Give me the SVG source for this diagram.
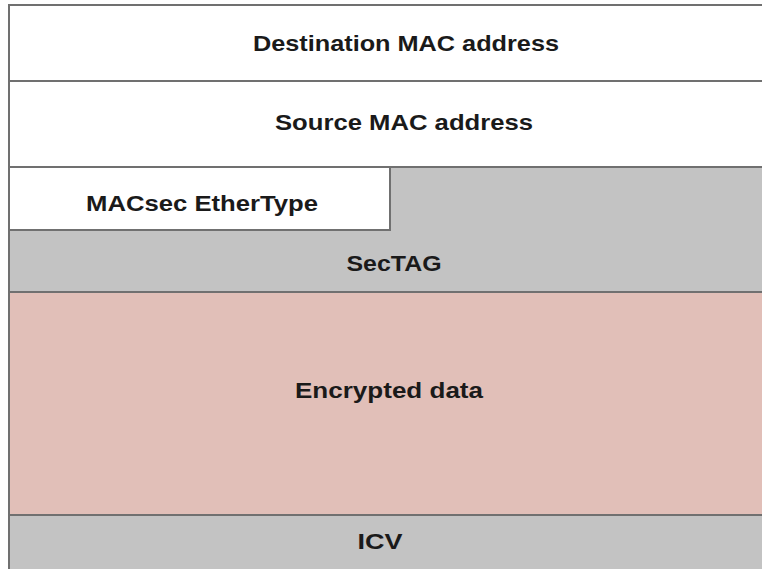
<svg xmlns="http://www.w3.org/2000/svg" width="762" height="569" viewBox="0 0 762 569">
<style>
.t{font-family:"Liberation Sans",Arial,sans-serif;font-weight:bold;font-size:22px;fill:#1a1a1a;text-anchor:middle}
.b{stroke:#707070;stroke-width:2}
</style>
<rect width="762" height="569" fill="#ffffff"/>
<g id="dest"><rect class="b" x="9" y="5" width="760" height="76" fill="#ffffff"/><text class="t" x="406" y="51" textLength="306" lengthAdjust="spacingAndGlyphs">Destination MAC address</text></g>
<g id="src"><rect class="b" x="9" y="81" width="760" height="86" fill="#ffffff"/><text class="t" x="404" y="130" textLength="258" lengthAdjust="spacingAndGlyphs">Source MAC address</text></g>
<g id="sectag"><path class="b" d="M9 167 H769 V292 H9 Z" fill="#c3c3c3"/><text class="t" x="394" y="271" textLength="95" lengthAdjust="spacingAndGlyphs">SecTAG</text></g>
<g id="ethertype"><path class="b" d="M9 167 H390 V230 H9 Z" fill="#ffffff"/><text class="t" x="202" y="211" textLength="232" lengthAdjust="spacingAndGlyphs">MACsec EtherType</text></g>
<g id="encrypted"><rect class="b" x="9" y="292" width="760" height="223" fill="#e1bfb8"/><text class="t" x="389" y="398" textLength="188" lengthAdjust="spacingAndGlyphs">Encrypted data</text></g>
<g id="icv"><rect class="b" x="9" y="515" width="760" height="60" fill="#c3c3c3"/><text class="t" x="380" y="549" textLength="45" lengthAdjust="spacingAndGlyphs">ICV</text></g>
<g id="connectors"></g>
</svg>
